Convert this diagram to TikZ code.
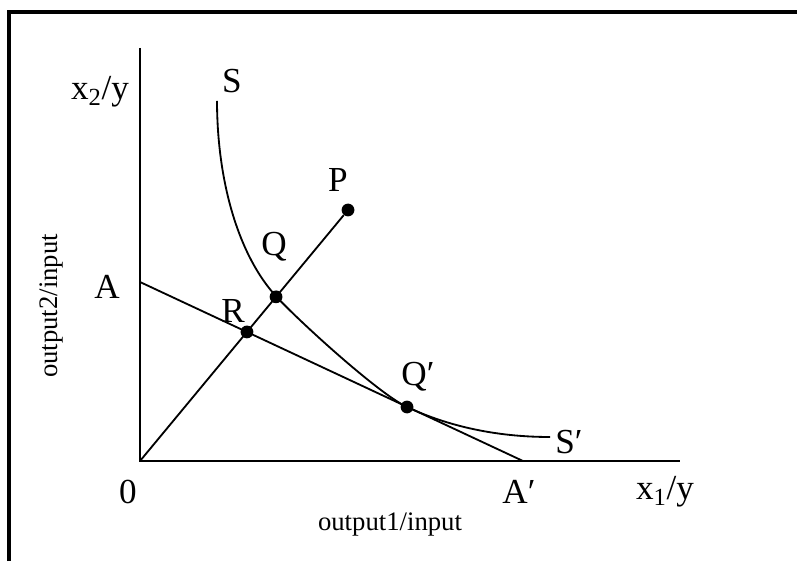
\documentclass[tikz,border=0pt]{standalone}
\usepackage{fontspec}
\setmainfont{Liberation Serif}
\usetikzlibrary{positioning, calc}

\begin{document}
\begin{tikzpicture}[
        curve/.style={line width=1.3pt},
        dot/.style={circle, fill=black, inner sep=0pt, minimum size=0.32cm},
        lbl/.style={font=\fontsize{25}{30}\selectfont, inner sep=0pt},
        axlbl/.style={font=\fontsize{19}{23}\selectfont, inner sep=0pt}
    ]
    \useasboundingbox (0,0) rectangle (19.925,14.025);
    % --- frame (top and left edge only) ---
    \draw[line width=3pt] (0.225,0) -- (0.225,13.725) -- (19.925,13.725);

    % --- axes ---
    \coordinate (O) at (3.5,2.5);
    \coordinate (ytop) at (3.5,12.825);
    \coordinate (xend) at (17.0,2.5);
    \draw[curve] (ytop) -- (O) -- (xend);

    % --- budget line A -- A' ---
    \coordinate (A) at (3.5,6.975);
    \coordinate (Ap) at (13.075,2.5);
    \draw[curve] (A) -- (Ap);

    % --- ray from the origin to P ---
    \node[dot] (P) at (8.7,8.775) {};
    \draw[curve] (O) -- (P);

    % --- frontier S -- S' ---
    \coordinate (S0) at (5.425,11.5);
    \coordinate (Qc) at (6.9,6.62);
    \coordinate (Qpc) at (10.175,3.85);
    \coordinate (S1) at (13.75,3.1);
    \draw[curve] (S0) .. controls (5.43,9.4) and (6.0,7.6) .. (Qc)
        .. controls (7.44,6.03) and (9.45,4.19) .. (Qpc)
        .. controls (11.35,3.3) and (12.6,3.1) .. (S1);

    % --- points on the ray and the frontier ---
    \node[dot] (Q) at ($(O)!0.654!(P)$) {};
    \node[dot] (R) at (intersection of O--P and A--Ap) {};
    \node[dot] (Qp) at (Qpc) {};

    % --- point labels ---
    \node[lbl] (Slbl) at (5.8,12.0) {S};
    \node[lbl] (Plbl) at (8.45,9.525) {P};
    \node[lbl] (Qlbl) at (6.85,7.85) {Q};
    \node[lbl] (Rlbl) at (5.825,6.25) {R};
    \node[lbl] (Albl) at (2.675,6.85) {A};
    \node[lbl] (Qplbl) at (10.45,4.6) {Q′};
    \node[lbl] (Splbl) at (14.225,2.975) {S′};
    \node[lbl] (Aplbl) at (12.975,1.725) {A′};
    \node[lbl] (Olbl) at (3.2,1.725) {0};

    % --- axis labels ---
    \node[lbl] (xlbl) at (16.625,1.725) {x\textsubscript{1}/y};
    \node[lbl] (ylbl) at (2.5,11.725) {x\textsubscript{2}/y};
    \node[axlbl] (xdesc) at (9.75,0.925) {output1/input};
    \node[axlbl, rotate=90] (ydesc) at (1.275,6.375) {output2/input};
\end{tikzpicture}
\end{document}
